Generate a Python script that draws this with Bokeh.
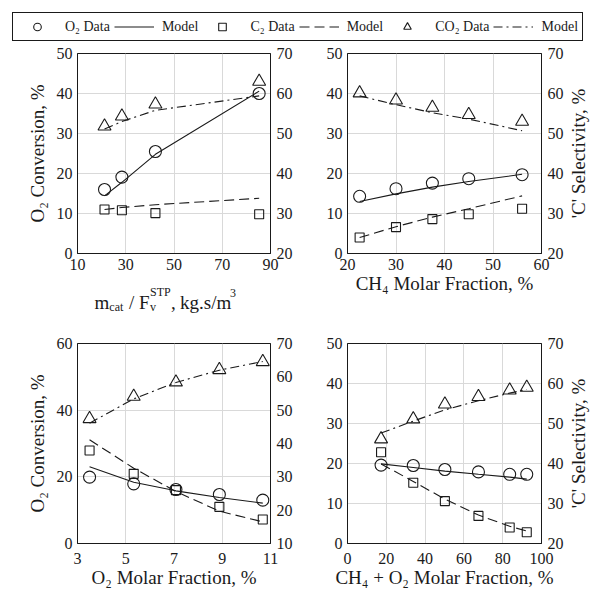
import math
from bokeh.plotting import figure
from bokeh.models import Range1d, LinearAxis, FixedTicker, Legend, LegendItem
from bokeh.core.properties import value
from bokeh.layouts import column, row
from bokeh.embed import file_html
from bokeh.resources import INLINE

FONT = "Liberation Serif"
INK = "#1a1a1a"
GRID = "#d9d9d9"

# ---------------- data ----------------
# Panel A: residence time m_cat / F_v^STP (kg.s/m3)
a_x = [21.2, 28.4, 42.3, 85.3]
a_o2 = [16.0, 19.1, 25.5, 40.0]
a_o2_model = [14.4, 17.8, 24.8, 40.6]
a_c2 = [11.0, 10.8, 10.1, 9.8]
a_c2_model = [11.0, 11.5, 12.2, 13.8]
a_co2 = [51.8, 54.3, 57.3, 63.0]
a_co2_model = [51.1, 53.0, 55.8, 59.4]

# Panel B: CH4 molar fraction (%)
b_x = [22.5, 30.0, 37.5, 45.0, 56.0]
b_o2 = [14.3, 16.2, 17.6, 18.7, 19.7]
b_o2_model = [13.0, 14.9, 16.6, 18.0, 19.8]
b_c2 = [4.0, 6.6, 8.6, 9.8, 11.2]
b_c2_model = [4.0, 6.7, 9.1, 11.2, 14.4]
b_co2 = [60.1, 58.3, 56.5, 54.7, 53.0]
b_co2_model = [59.4, 57.2, 55.2, 53.6, 50.7]

# Panel C: O2 molar fraction (%)
c_x = [3.5, 5.33, 7.08, 8.88, 10.68]
c_o2 = [19.9, 17.9, 16.2, 14.7, 13.0]
c_o2_model = [23.0, 18.4, 15.8, 13.8, 12.1]
c_c2 = [27.9, 20.9, 16.0, 11.0, 7.2]
c_c2_model = [31.1, 22.6, 15.6, 9.7, 6.5]
c_co2 = [47.4, 54.1, 58.4, 62.1, 64.5]
c_co2_model = [46.1, 53.4, 58.3, 62.0, 64.6]

# Panel D: CH4 + O2 molar fraction (%)
d_x = [17.3, 33.9, 50.2, 67.5, 83.6, 92.4]
d_o2 = [19.6, 19.5, 18.5, 17.9, 17.3, 17.3]
d_o2_model = [19.9, 19.0, 18.1, 17.3, 16.6, 16.1]
d_c2 = [22.8, 15.2, 10.6, 6.9, 4.0, 2.8]
d_c2_model = [19.9, 15.5, 11.1, 7.1, 4.3, 3.1]
d_co2 = [46.1, 51.1, 54.8, 56.7, 58.3, 59.0]
d_co2_model = [47.6, 50.6, 53.4, 55.7, 57.6, 58.5]

# ticks
a_xticks = [10, 30, 50, 70, 90]
b_xticks = [20, 30, 40, 50, 60]
c_xticks = [3, 5, 7, 9, 11]
d_xticks = [0, 20, 40, 60, 80, 100]
y50_ticks = [0, 10, 20, 30, 40, 50]
y60_ticks = [0, 20, 40, 60]
sel_ticks_20 = [20, 30, 40, 50, 60, 70]
sel_ticks_10 = [10, 20, 30, 40, 50, 60, 70]

legend_labels = ["O\u2082 Data", "Model", "C\u2082 Data", "Model", "CO\u2082 Data", "Model"]
ylabel_left = "O\u2082 Conversion, %"
ylabel_right = "'C' Selectivity, %"

DASH = "10 5"
DASHDOT = "9 4 2 4"
TICK_FS = "16px"
LABEL_FS = "19px"


def style_axis(ax, standoff=5, label_standoff=5):
    ax.major_label_text_font = FONT
    ax.major_label_text_font_size = TICK_FS
    ax.major_label_text_color = INK
    ax.major_label_standoff = standoff
    ax.axis_line_color = INK
    ax.major_tick_in = 0
    ax.major_tick_out = 0
    ax.minor_tick_line_color = None
    ax.axis_label_text_font = FONT
    ax.axis_label_text_font_size = LABEL_FS
    ax.axis_label_text_font_style = "normal"
    ax.axis_label_text_color = INK
    ax.axis_label_standoff = label_standoff


def bare(p):
    p.outline_line_color = None
    p.xgrid.visible = False
    p.ygrid.visible = False
    p.border_fill_color = "white"
    p.background_fill_color = "white"


def panel(x, o2, o2m, c2, c2m, co2, co2m, xr, yr, y2r, xt, yt, y2t,
          bl, br, bt, bb, fw, fh, xlabel, ylabel, xstand, xlstand):
    p = figure(frame_width=fw, frame_height=fh,
               min_border_left=bl, min_border_right=br,
               min_border_top=bt, min_border_bottom=bb,
               x_range=Range1d(*xr), y_range=Range1d(*yr),
               toolbar_location=None, tools="", output_backend="svg")
    p.extra_y_ranges = {"sel": Range1d(*y2r)}
    ax2 = LinearAxis(y_range_name="sel", ticker=FixedTicker(ticks=y2t))
    p.add_layout(ax2, "right")
    p.xaxis.ticker = FixedTicker(ticks=xt)
    p.yaxis[0].ticker = FixedTicker(ticks=yt)
    p.xgrid.ticker = FixedTicker(ticks=xt)
    p.ygrid.ticker = FixedTicker(ticks=yt)
    for g in (p.xgrid[0], p.ygrid[0]):
        g.grid_line_color = GRID
        g.grid_line_width = 1
    style_axis(p.xaxis[0], standoff=xstand, label_standoff=xlstand)
    style_axis(p.yaxis[0], standoff=5, label_standoff=6)
    style_axis(ax2, standoff=6, label_standoff=6)
    if xlabel:
        p.xaxis.axis_label = xlabel
    if ylabel:
        p.yaxis[0].axis_label = ylabel
    p.outline_line_color = INK
    p.outline_line_width = 1
    p.outline_line_alpha = 1
    p.background_fill_color = "white"
    p.border_fill_color = "white"

    p.line(x, o2m, line_color=INK, line_width=1.1)
    p.line(x, c2m, line_color=INK, line_width=1.1, line_dash=DASH)
    p.line(x, co2m, line_color=INK, line_width=1.1, line_dash=DASHDOT, y_range_name="sel")
    p.scatter(x, o2, marker="circle", size=12, fill_color=None, line_color=INK, line_width=1.1)
    p.scatter(x, c2, marker="square", size=9, fill_color=None, line_color=INK, line_width=1.1)
    p.scatter(x, co2, marker="triangle", size=13, fill_color=None, line_color=INK,
              line_width=1.1, y_range_name="sel")
    return p


def side_label(text, bt, fh, bb):
    # narrow strip carrying the right-hand title, rotated to read bottom-to-top
    s = figure(frame_width=26, frame_height=fh, min_border_left=0, min_border_right=0,
               min_border_top=bt, min_border_bottom=bb,
               x_range=Range1d(564, 590), y_range=Range1d(0, 1),
               x_axis_type=None, y_axis_type=None,
               toolbar_location=None, tools="", output_backend="svg")
    bare(s)
    s.text(x=[576.0], y=[0.5], text=[text], angle=math.pi / 2,
           text_font=value(FONT), text_font_size=value(LABEL_FS), text_color=INK,
           text_align="center", text_baseline="middle")
    return s


pA = panel(a_x, a_o2, a_o2_model, a_c2, a_c2_model, a_co2, a_co2_model,
           (10, 90), (0, 50), (20, 70), a_xticks, y50_ticks, sel_ticks_20,
           77, 40, 8, 24, 193, 200, "", ylabel_left, 5, 0)
pB = panel(b_x, b_o2, b_o2_model, b_c2, b_c2_model, b_co2, b_co2_model,
           (20, 60), (0, 50), (20, 70), b_xticks, y50_ticks, sel_ticks_20,
           37, 23, 8, 67, 194, 200, "CH\u2084 Molar Fraction, %", "", 5, 0)
pC = panel(c_x, c_o2, c_o2_model, c_c2, c_c2_model, c_co2, c_co2_model,
           (3, 11), (0, 60), (10, 70), c_xticks, y60_ticks, sel_ticks_10,
           77, 40, 23, 51, 193, 200, "O\u2082 Molar Fraction, %", ylabel_left, 9, 0)
pD = panel(d_x, d_o2, d_o2_model, d_c2, d_c2_model, d_co2, d_co2_model,
           (0, 100), (0, 50), (20, 70), d_xticks, y50_ticks, sel_ticks_20,
           37, 23, 23, 51, 194, 200, "CH\u2084 + O\u2082 Molar Fraction, %", "", 9, 0)

sR1 = side_label(ylabel_right, 8, 200, 67)
sR2 = side_label(ylabel_right, 23, 200, 51)

# composed x-axis title of panel A: m_cat / F_v^STP, kg.s/m^3
# strip frame is aligned with panel A's frame (page x 77..270, page y 277..320)
sA = figure(frame_width=193, frame_height=43, min_border_left=77, min_border_right=40,
            min_border_top=0, min_border_bottom=0,
            x_range=Range1d(77, 270), y_range=Range1d(0, 43),
            x_axis_type=None, y_axis_type=None,
            toolbar_location=None, tools="", output_backend="svg")
bare(sA)
big, small = "19px", "12px"
title_pieces = [  # text, left x, baseline y, size
    ("m", 94.0, 18.0, big),
    ("cat", 108.8, 14.0, small),
    ("/", 128.5, 18.0, big),
    ("F", 138.5, 18.0, big),
    ("v", 149.5, 14.0, small),
    ("STP", 149.5, 29.0, small),
    (",", 170.5, 18.0, big),
    ("kg.s/m", 179.5, 18.0, big),
    ("3", 229.5, 28.0, small),
]
for txt, tx, ty, fs in title_pieces:
    sA.text(x=[tx], y=[ty], text=[txt], text_font=value(FONT), text_font_size=value(fs),
            text_color=INK, text_align="left", text_baseline="alphabetic")

# legend strip (proxy renderers kept outside the strip's visible ranges)
pL = figure(width=590, height=45, x_range=Range1d(-2, -1), y_range=Range1d(-2, -1),
            x_axis_type=None, y_axis_type=None, min_border=0,
            toolbar_location=None, tools="", output_backend="svg")
bare(pL)
r1 = pL.scatter(a_x, a_o2, marker="circle", size=12, fill_color=None, line_color=INK, line_width=1.1)
r2 = pL.line(a_x, a_o2_model, line_color=INK, line_width=1.1)
r3 = pL.scatter(a_x, a_c2, marker="square", size=9, fill_color=None, line_color=INK, line_width=1.1)
r4 = pL.line(a_x, a_c2_model, line_color=INK, line_width=1.1, line_dash=DASH)
r5 = pL.scatter(a_x, a_co2, marker="triangle", size=13, fill_color=None, line_color=INK, line_width=1.1)
r6 = pL.line(a_x, a_co2_model, line_color=INK, line_width=1.1, line_dash=DASHDOT)
items = [LegendItem(label=lab, renderers=[r]) for lab, r in zip(legend_labels, [r1, r2, r3, r4, r5, r6])]
leg = Legend(items=items, orientation="horizontal", location="top_left",
             glyph_width=40, glyph_height=19, label_height=19, label_standoff=8,
             spacing=4, padding=4, margin=12,
             label_text_font=FONT, label_text_font_size="14px", label_text_color=INK,
             border_line_color=INK, border_line_width=1, border_line_alpha=1,
             background_fill_color="white", background_fill_alpha=1)
pL.add_layout(leg, "center")

layout = column(pL, row(column(pA, sA), pB, sR1), row(pC, pD, sR2))
open("out.html", "w").write(file_html(layout, INLINE))
